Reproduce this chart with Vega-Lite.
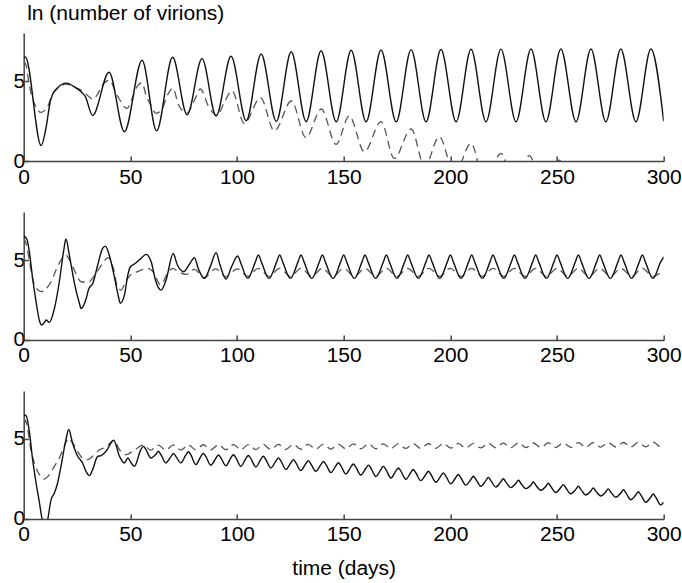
{
"$schema": "https://vega.github.io/schema/vega-lite/v6.json",
"padding": {"left": 12.7, "top": 2, "right": 0, "bottom": 0},
"autosize": {"type": "pad"},
"spacing": 25,
"config": {
 "view": {"stroke": null},
 "font": "Liberation Sans",
 "axis": {"labelFont": "Liberation Sans", "labelFontSize": 21, "labelColor": "#000", "domainColor": "#444", "domainWidth": 1.5, "tickColor": "#444", "tickWidth": 1.5, "tickSize": -5, "grid": false, "titleFont": "Liberation Sans", "titleFontSize": 21, "titleFontWeight": "normal", "titleColor": "#000", "labelFlush": false}
},
"datasets": {
"p1s": [{"t":0,"v":6.45},{"t":0.8,"v":6.5},{"t":8.2,"v":0.96},{"t":10.5,"v":2.1},{"t":12.5,"v":3.75},{"t":13.5,"v":4.15},{"t":16,"v":4.6},{"t":20,"v":4.87},{"t":24,"v":4.62},{"t":27.5,"v":4.25},{"t":28.8,"v":4.05},{"t":32.3,"v":2.85},{"t":40,"v":5.55},{"t":47.2,"v":1.83},{"t":55.5,"v":6.3},{"t":62.3,"v":1.88},{"t":69.8,"v":6.48},{"t":76.6,"v":2.88},{"t":83.6,"v":6.4},{"t":90.2,"v":2.81},{"t":97.2,"v":6.55},{"t":104.3,"v":2.52},{"t":111.3,"v":6.69},{"t":118.4,"v":2.47},{"t":125.4,"v":6.83},{"t":132.4,"v":2.46},{"t":139.4,"v":6.89},{"t":146.5,"v":2.45},{"t":153.5,"v":6.92},{"t":160.5,"v":2.45},{"t":167.5,"v":6.94},{"t":174.6,"v":2.45},{"t":181.6,"v":6.96},{"t":188.6,"v":2.45},{"t":195.6,"v":6.97},{"t":202.7,"v":2.45},{"t":209.7,"v":6.98},{"t":216.7,"v":2.45},{"t":223.7,"v":6.99},{"t":230.8,"v":2.45},{"t":237.8,"v":7.0},{"t":244.8,"v":2.45},{"t":251.8,"v":7.0},{"t":258.9,"v":2.45},{"t":265.9,"v":7.0},{"t":272.9,"v":2.45},{"t":279.9,"v":7.0},{"t":287.0,"v":2.45},{"t":294.0,"v":7.0},{"t":300,"v":2.48}],
"p1d": [{"t":0,"v":6.2},{"t":1,"v":6.05},{"t":2.6,"v":4.75},{"t":5,"v":3.6},{"t":8.1,"v":3.04},{"t":11.2,"v":3.4},{"t":13.6,"v":4.2},{"t":16,"v":4.55},{"t":19.8,"v":4.8},{"t":24,"v":4.6},{"t":26,"v":4.5},{"t":28.4,"v":4.3},{"t":30.8,"v":4.0},{"t":32.5,"v":3.85},{"t":34.7,"v":4.2},{"t":37,"v":4.75},{"t":40,"v":5.05},{"t":44.1,"v":4.03},{"t":48.5,"v":3.29},{"t":50.8,"v":3.9},{"t":53.9,"v":4.8},{"t":55.5,"v":4.88},{"t":57.3,"v":4.12},{"t":59.6,"v":3.5},{"t":62,"v":2.98},{"t":64.6,"v":3.2},{"t":67.7,"v":4.2},{"t":70,"v":4.55},{"t":72.6,"v":3.5},{"t":76.5,"v":3.0},{"t":80.4,"v":3.9},{"t":82.8,"v":4.5},{"t":86.7,"v":3.4},{"t":90.6,"v":2.87},{"t":94.5,"v":3.8},{"t":97.6,"v":4.39},{"t":103.4,"v":2.35},{"t":111,"v":3.96},{"t":117.5,"v":1.88},{"t":125.5,"v":3.75},{"t":132.3,"v":1.46},{"t":139.5,"v":3.25},{"t":146.4,"v":1.04},{"t":152.6,"v":2.81},{"t":159.7,"v":0.58},{"t":167.5,"v":2.46},{"t":173.7,"v":0.16},{"t":181.6,"v":2.0},{"t":188,"v":-0.35},{"t":194.8,"v":1.52},{"t":202,"v":-0.8},{"t":209.7,"v":1.1},{"t":216,"v":-1.25},{"t":223.8,"v":0.48},{"t":230,"v":-1.7},{"t":237,"v":0.33},{"t":244,"v":-2.1},{"t":251,"v":0.05},{"t":258,"v":-2.5},{"t":265,"v":-0.3},{"t":272,"v":-2.8},{"t":279,"v":-0.6},{"t":286,"v":-3.0},{"t":293,"v":-0.9},{"t":300,"v":-3.2}],
"p2s": [{"t":0,"v":6.5},{"t":1.5,"v":6.3},{"t":2.6,"v":5.55},{"t":4.2,"v":3.83},{"t":5.8,"v":2.4},{"t":7.3,"v":1.25},{"t":8.4,"v":0.94},{"t":9.7,"v":1.1},{"t":10.5,"v":1.25},{"t":12,"v":1.1},{"t":14.4,"v":1.97},{"t":16.7,"v":3.64},{"t":18.7,"v":5.55},{"t":19.8,"v":6.31},{"t":21.4,"v":5.31},{"t":23.8,"v":3.54},{"t":26.1,"v":2.3},{"t":26.9,"v":1.97},{"t":29.3,"v":2.59},{"t":30.4,"v":3.16},{"t":32.4,"v":3.54},{"t":34.7,"v":4.69},{"t":37,"v":5.73},{"t":38.3,"v":5.87},{"t":40.1,"v":5.31},{"t":42.5,"v":3.95},{"t":44.1,"v":2.91},{"t":45.3,"v":2.3},{"t":47.2,"v":2.8},{"t":48.8,"v":4.06},{"t":50,"v":4.58},{"t":51.9,"v":4.75},{"t":55,"v":5.1},{"t":57.4,"v":5.35},{"t":59.7,"v":4.9},{"t":62,"v":3.64},{"t":64.4,"v":3.12},{"t":66.7,"v":3.74},{"t":70.1,"v":5.41},{"t":72,"v":4.7},{"t":75,"v":4.27},{"t":78,"v":4.8},{"t":80,"v":5.14},{"t":82,"v":4.4},{"t":84.7,"v":3.85},{"t":87.5,"v":4.6},{"t":90.2,"v":5.46},{"t":92,"v":4.7},{"t":94.8,"v":3.81},{"t":97.5,"v":4.6},{"t":100.3,"v":5.25},{"t":101.8,"v":4.8},{"t":105,"v":3.85},{"t":108.5,"v":4.85},{"t":110,"v":5.31},{"t":111.5,"v":4.85},{"t":115,"v":3.85},{"t":118.5,"v":4.85},{"t":120,"v":5.31},{"t":121.5,"v":4.85},{"t":125,"v":3.85},{"t":128.5,"v":4.85},{"t":130,"v":5.31},{"t":131.5,"v":4.85},{"t":135,"v":3.85},{"t":138.5,"v":4.85},{"t":140,"v":5.31},{"t":141.5,"v":4.85},{"t":145,"v":3.85},{"t":148.5,"v":4.85},{"t":150,"v":5.31},{"t":151.5,"v":4.85},{"t":155,"v":3.85},{"t":158.5,"v":4.85},{"t":160,"v":5.31},{"t":161.5,"v":4.85},{"t":165,"v":3.85},{"t":168.5,"v":4.85},{"t":170,"v":5.31},{"t":171.5,"v":4.85},{"t":175,"v":3.85},{"t":178.5,"v":4.85},{"t":180,"v":5.31},{"t":181.5,"v":4.85},{"t":185,"v":3.85},{"t":188.5,"v":4.85},{"t":190,"v":5.31},{"t":191.5,"v":4.85},{"t":195,"v":3.85},{"t":198.5,"v":4.85},{"t":200,"v":5.31},{"t":201.5,"v":4.85},{"t":205,"v":3.85},{"t":208.5,"v":4.85},{"t":210,"v":5.31},{"t":211.5,"v":4.85},{"t":215,"v":3.85},{"t":218.5,"v":4.85},{"t":220,"v":5.31},{"t":221.5,"v":4.85},{"t":225,"v":3.85},{"t":228.5,"v":4.85},{"t":230,"v":5.31},{"t":231.5,"v":4.85},{"t":235,"v":3.85},{"t":238.5,"v":4.85},{"t":240,"v":5.31},{"t":241.5,"v":4.85},{"t":245,"v":3.85},{"t":248.5,"v":4.85},{"t":250,"v":5.31},{"t":251.5,"v":4.85},{"t":255,"v":3.85},{"t":258.5,"v":4.85},{"t":260,"v":5.31},{"t":261.5,"v":4.85},{"t":265,"v":3.85},{"t":268.5,"v":4.85},{"t":270,"v":5.31},{"t":271.5,"v":4.85},{"t":275,"v":3.85},{"t":278.5,"v":4.85},{"t":280,"v":5.31},{"t":281.5,"v":4.85},{"t":285,"v":3.85},{"t":288.5,"v":4.85},{"t":290,"v":5.31},{"t":291.5,"v":4.85},{"t":295,"v":3.85},{"t":298.5,"v":4.85},{"t":300,"v":5.2}],
"p2d": [{"t":0,"v":6.35},{"t":1.2,"v":6.0},{"t":2.6,"v":5.0},{"t":5,"v":3.45},{"t":8.1,"v":3.02},{"t":12.8,"v":3.64},{"t":15.9,"v":4.6},{"t":19.8,"v":5.3},{"t":22.9,"v":4.6},{"t":26.9,"v":3.64},{"t":30,"v":3.6},{"t":33.9,"v":4.17},{"t":37,"v":4.79},{"t":39.5,"v":5.15},{"t":42,"v":4.5},{"t":44,"v":3.3},{"t":45.6,"v":3.12},{"t":48,"v":3.7},{"t":50.3,"v":4.1},{"t":53.4,"v":4.27},{"t":58,"v":4.48},{"t":61,"v":4.2},{"t":64.1,"v":3.44},{"t":68,"v":4.3},{"t":69.9,"v":4.48},{"t":72.2,"v":4.3},{"t":76.1,"v":4.1},{"t":80,"v":4.42},{"t":84.5,"v":3.9},{"t":90,"v":4.45},{"t":95,"v":3.95},{"t":100,"v":4.45},{"t":105,"v":3.98},{"t":110,"v":4.48},{"t":115,"v":3.98},{"t":120,"v":4.48},{"t":125,"v":3.98},{"t":130,"v":4.48},{"t":135,"v":3.98},{"t":140,"v":4.48},{"t":145,"v":3.98},{"t":150,"v":4.48},{"t":155,"v":3.98},{"t":160,"v":4.48},{"t":165,"v":3.98},{"t":170,"v":4.48},{"t":175,"v":3.98},{"t":180,"v":4.48},{"t":185,"v":3.98},{"t":190,"v":4.48},{"t":195,"v":3.98},{"t":200,"v":4.48},{"t":205,"v":3.98},{"t":210,"v":4.48},{"t":215,"v":3.98},{"t":220,"v":4.48},{"t":225,"v":3.98},{"t":230,"v":4.48},{"t":235,"v":3.98},{"t":240,"v":4.48},{"t":245,"v":3.98},{"t":250,"v":4.48},{"t":255,"v":3.98},{"t":260,"v":4.48},{"t":265,"v":3.98},{"t":270,"v":4.48},{"t":275,"v":3.98},{"t":280,"v":4.48},{"t":285,"v":3.98},{"t":290,"v":4.48},{"t":295,"v":3.98},{"t":300,"v":4.4}],
"p3s": [{"t":0,"v":6.5},{"t":1.2,"v":6.45},{"t":2.7,"v":5.4},{"t":4.2,"v":3.7},{"t":5.8,"v":2.25},{"t":7.4,"v":1.0},{"t":8.6,"v":0},{"t":10,"v":-0.6},{"t":11.3,"v":0},{"t":12.8,"v":1.2},{"t":14.4,"v":1.63},{"t":15.9,"v":2.25},{"t":17.5,"v":3.3},{"t":19.8,"v":4.96},{"t":21.1,"v":5.59},{"t":22.9,"v":4.75},{"t":25.3,"v":3.92},{"t":27.6,"v":3.5},{"t":29.2,"v":2.98},{"t":30.8,"v":2.71},{"t":32.3,"v":3.08},{"t":34.7,"v":3.92},{"t":36.3,"v":3.96},{"t":38.6,"v":4.23},{"t":42.2,"v":4.92},{"t":44.9,"v":3.92},{"t":47.2,"v":3.5},{"t":48.8,"v":3.81},{"t":50.4,"v":3.5},{"t":51.9,"v":3.3},{"t":54.9,"v":4.34},{"t":56.1,"v":4.54},{"t":57.3,"v":4.34},{"t":59.6,"v":3.81},{"t":61.9,"v":4.03},{"t":63.1,"v":4.23},{"t":64.3,"v":4.03},{"t":66.6,"v":3.5},{"t":69,"v":3.9},{"t":70.2,"v":4.1},{"t":71.4,"v":3.9},{"t":73.7,"v":3.5},{"t":76,"v":4.0},{"t":77.2,"v":4.2},{"t":78.4,"v":4.0},{"t":80.7,"v":3.4},{"t":83,"v":3.9},{"t":84.2,"v":4.1},{"t":85.4,"v":3.9},{"t":87.7,"v":3.36},{"t":90.1,"v":3.8},{"t":91.3,"v":4.0},{"t":92.5,"v":3.8},{"t":94.8,"v":3.33},{"t":97.1,"v":3.82},{"t":98.3,"v":4.02},{"t":99.5,"v":3.82},{"t":101.8,"v":3.29},{"t":104.1,"v":3.77},{"t":105.3,"v":3.97},{"t":106.5,"v":3.77},{"t":108.8,"v":3.25},{"t":111.1,"v":3.72},{"t":112.3,"v":3.92},{"t":113.5,"v":3.72},{"t":115.8,"v":3.19},{"t":118.2,"v":3.62},{"t":119.4,"v":3.82},{"t":120.6,"v":3.62},{"t":122.9,"v":3.1},{"t":125.2,"v":3.51},{"t":126.4,"v":3.71},{"t":127.6,"v":3.51},{"t":129.9,"v":3.03},{"t":132.2,"v":3.45},{"t":133.4,"v":3.65},{"t":134.6,"v":3.45},{"t":136.9,"v":2.98},{"t":139.3,"v":3.4},{"t":140.5,"v":3.6},{"t":141.7,"v":3.4},{"t":144,"v":2.9},{"t":146.3,"v":3.32},{"t":147.5,"v":3.52},{"t":148.7,"v":3.32},{"t":151,"v":2.81},{"t":153.3,"v":3.24},{"t":154.5,"v":3.44},{"t":155.7,"v":3.24},{"t":158,"v":2.75},{"t":160.4,"v":3.17},{"t":161.6,"v":3.37},{"t":162.8,"v":3.17},{"t":165.1,"v":2.66},{"t":167.4,"v":3.09},{"t":168.6,"v":3.29},{"t":169.8,"v":3.09},{"t":172.1,"v":2.56},{"t":174.4,"v":2.99},{"t":175.6,"v":3.19},{"t":176.8,"v":2.99},{"t":179.1,"v":2.48},{"t":181.4,"v":2.89},{"t":182.6,"v":3.09},{"t":183.8,"v":2.89},{"t":186.1,"v":2.4},{"t":188.5,"v":2.78},{"t":189.7,"v":2.98},{"t":190.9,"v":2.78},{"t":193.2,"v":2.3},{"t":195.5,"v":2.68},{"t":196.7,"v":2.88},{"t":197.9,"v":2.68},{"t":200.2,"v":2.2},{"t":202.5,"v":2.58},{"t":203.7,"v":2.78},{"t":204.9,"v":2.58},{"t":207.2,"v":2.12},{"t":209.6,"v":2.47},{"t":210.8,"v":2.67},{"t":212,"v":2.47},{"t":214.3,"v":2.05},{"t":216.6,"v":2.4},{"t":217.8,"v":2.6},{"t":219,"v":2.4},{"t":221.3,"v":2.0},{"t":223.6,"v":2.32},{"t":224.8,"v":2.52},{"t":226,"v":2.32},{"t":228.3,"v":1.96},{"t":230.7,"v":2.22},{"t":231.9,"v":2.42},{"t":233.1,"v":2.22},{"t":235.4,"v":1.9},{"t":237.7,"v":2.11},{"t":238.9,"v":2.31},{"t":240.1,"v":2.11},{"t":242.4,"v":1.8},{"t":244.7,"v":2.03},{"t":245.9,"v":2.23},{"t":247.1,"v":2.03},{"t":249.4,"v":1.66},{"t":251.7,"v":1.95},{"t":252.9,"v":2.15},{"t":254.1,"v":1.95},{"t":256.4,"v":1.58},{"t":258.8,"v":1.85},{"t":260,"v":2.05},{"t":261.2,"v":1.85},{"t":263.5,"v":1.5},{"t":265.8,"v":1.74},{"t":267,"v":1.94},{"t":268.2,"v":1.74},{"t":270.5,"v":1.44},{"t":272.8,"v":1.68},{"t":274,"v":1.88},{"t":275.2,"v":1.68},{"t":277.5,"v":1.36},{"t":279.9,"v":1.63},{"t":281.1,"v":1.83},{"t":282.3,"v":1.63},{"t":284.6,"v":1.2},{"t":286.9,"v":1.5},{"t":288.1,"v":1.7},{"t":289.3,"v":1.5},{"t":291.6,"v":1.05},{"t":293.9,"v":1.36},{"t":295.1,"v":1.56},{"t":296.3,"v":1.36},{"t":298.6,"v":0.88},{"t":300,"v":1.05}],
"p3d": [{"t":0,"v":6.3},{"t":1.5,"v":5.9},{"t":3.4,"v":4.3},{"t":5,"v":3.5},{"t":7.4,"v":2.77},{"t":9.7,"v":2.5},{"t":12,"v":2.77},{"t":14.4,"v":3.3},{"t":16.7,"v":3.8},{"t":19,"v":4.55},{"t":21.1,"v":5.05},{"t":22.9,"v":4.75},{"t":25.3,"v":4.23},{"t":27.6,"v":3.8},{"t":30,"v":3.71},{"t":32.3,"v":3.92},{"t":35.5,"v":4.33},{"t":38.6,"v":4.5},{"t":42.2,"v":4.92},{"t":44.9,"v":4.33},{"t":48,"v":4.02},{"t":51.1,"v":4.23},{"t":56.1,"v":4.62},{"t":59.6,"v":4.3},{"t":63.1,"v":4.62},{"t":66.6,"v":4.3},{"t":70.2,"v":4.63},{"t":73.7,"v":4.31},{"t":77.2,"v":4.63},{"t":80.7,"v":4.32},{"t":84.2,"v":4.64},{"t":87.7,"v":4.32},{"t":91.3,"v":4.64},{"t":94.8,"v":4.33},{"t":98.3,"v":4.65},{"t":101.8,"v":4.33},{"t":105.3,"v":4.65},{"t":108.8,"v":4.34},{"t":112.3,"v":4.66},{"t":115.8,"v":4.35},{"t":119.4,"v":4.66},{"t":122.9,"v":4.35},{"t":126.4,"v":4.67},{"t":129.9,"v":4.36},{"t":133.4,"v":4.67},{"t":136.9,"v":4.37},{"t":140.5,"v":4.68},{"t":144,"v":4.37},{"t":147.5,"v":4.68},{"t":151,"v":4.38},{"t":154.5,"v":4.69},{"t":158,"v":4.39},{"t":161.6,"v":4.69},{"t":165.1,"v":4.39},{"t":168.6,"v":4.7},{"t":172.1,"v":4.4},{"t":175.6,"v":4.71},{"t":179.1,"v":4.41},{"t":182.6,"v":4.71},{"t":186.1,"v":4.41},{"t":189.7,"v":4.72},{"t":193.2,"v":4.42},{"t":196.7,"v":4.72},{"t":200.2,"v":4.43},{"t":203.7,"v":4.73},{"t":207.2,"v":4.43},{"t":210.8,"v":4.73},{"t":214.3,"v":4.44},{"t":217.8,"v":4.74},{"t":221.3,"v":4.45},{"t":224.8,"v":4.74},{"t":228.3,"v":4.45},{"t":231.9,"v":4.75},{"t":235.4,"v":4.46},{"t":238.9,"v":4.75},{"t":242.4,"v":4.47},{"t":245.9,"v":4.76},{"t":249.4,"v":4.47},{"t":252.9,"v":4.76},{"t":256.4,"v":4.48},{"t":260,"v":4.77},{"t":263.5,"v":4.48},{"t":267,"v":4.77},{"t":270.5,"v":4.49},{"t":274,"v":4.78},{"t":277.5,"v":4.5},{"t":281.1,"v":4.78},{"t":284.6,"v":4.5},{"t":288.1,"v":4.79},{"t":291.6,"v":4.51},{"t":295.1,"v":4.8},{"t":298.6,"v":4.52},{"t":300,"v":4.55}]
},
"vconcat": [
{
 "width": 640, "height": 128,
 "encoding": {
  "x": {"field": "t", "type": "quantitative", "scale": {"domain": [0, 300], "nice": false}, "axis": {"values": [0,50,100,150,200,250,300], "title": null, "labelPadding": 10}},
  "y": {"field": "v", "type": "quantitative", "scale": {"domain": [0, 8], "nice": false}, "axis": {"values": [0,5], "labelPadding": 4, "title": "ln (number of virions)", "titleAngle": 0, "titleAlign": "left", "titleBaseline": "alphabetic", "titleX": 3, "titleY": -14}}
 },
 "layer": [
  {"data": {"name": "p1d"}, "mark": {"type": "line", "interpolate": "monotone", "clip": true, "color": "#555", "strokeWidth": 1.3, "strokeDash": [8, 5]}},
  {"data": {"name": "p1s"}, "mark": {"type": "line", "interpolate": "monotone", "clip": true, "color": "#111", "strokeWidth": 1.4}}
 ]
},
{
 "width": 640, "height": 128,
 "encoding": {
  "x": {"field": "t", "type": "quantitative", "scale": {"domain": [0, 300], "nice": false}, "axis": {"values": [0,50,100,150,200,250,300], "title": null, "labelPadding": 10}},
  "y": {"field": "v", "type": "quantitative", "scale": {"domain": [0, 8], "nice": false}, "axis": {"values": [0,5], "labelPadding": 4, "title": null}}
 },
 "layer": [
  {"data": {"name": "p2d"}, "mark": {"type": "line", "interpolate": "monotone", "clip": true, "color": "#555", "strokeWidth": 1.3, "strokeDash": [8, 5]}},
  {"data": {"name": "p2s"}, "mark": {"type": "line", "interpolate": "monotone", "clip": true, "color": "#111", "strokeWidth": 1.4}}
 ]
},
{
 "width": 640, "height": 128,
 "encoding": {
  "x": {"field": "t", "type": "quantitative", "scale": {"domain": [0, 300], "nice": false}, "axis": {"values": [0,50,100,150,200,250,300], "title": "time (days)", "labelPadding": 10, "titlePadding": 13}},
  "y": {"field": "v", "type": "quantitative", "scale": {"domain": [0, 8], "nice": false}, "axis": {"values": [0,5], "labelPadding": 4, "title": null}}
 },
 "layer": [
  {"data": {"name": "p3d"}, "mark": {"type": "line", "interpolate": "monotone", "clip": true, "color": "#555", "strokeWidth": 1.3, "strokeDash": [8, 5]}},
  {"data": {"name": "p3s"}, "mark": {"type": "line", "interpolate": "monotone", "clip": true, "color": "#111", "strokeWidth": 1.4}}
 ]
}
]
}
